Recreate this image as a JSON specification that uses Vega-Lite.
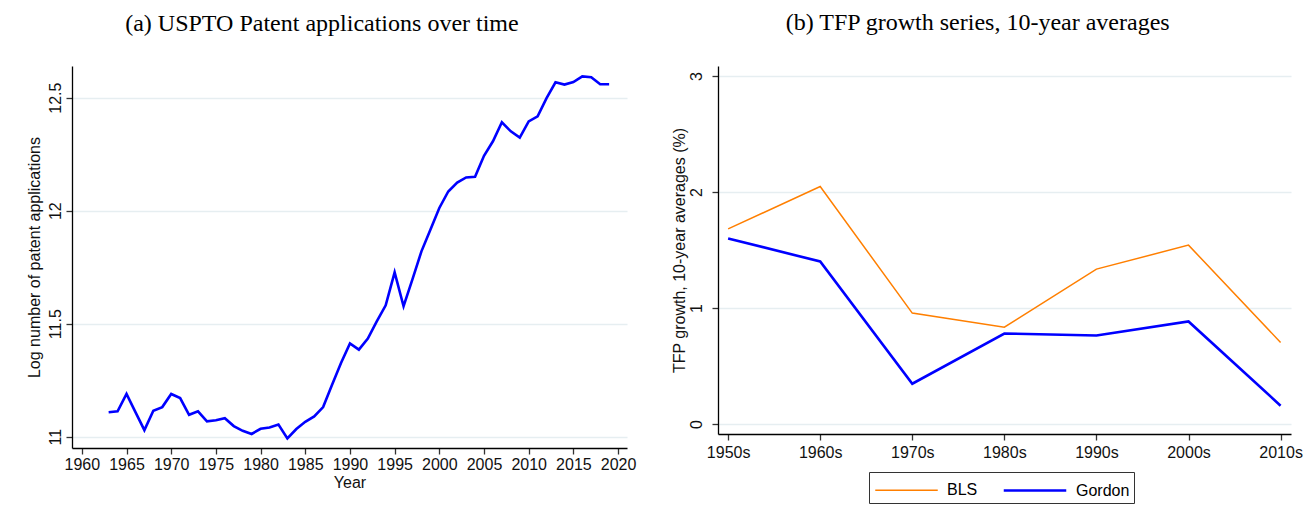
{
  "$schema": "https://vega.github.io/schema/vega-lite/v6.json",
  "background": "white",
  "padding": {"left": 26, "top": 11, "right": 0, "bottom": 0},
  "spacing": 35,
  "datasets": {
    "patents": [
      {"year": 1963, "log_apps": 11.108}, {"year": 1964, "log_apps": 11.112}, {"year": 1965, "log_apps": 11.189},
      {"year": 1966, "log_apps": 11.109}, {"year": 1967, "log_apps": 11.029}, {"year": 1968, "log_apps": 11.115},
      {"year": 1969, "log_apps": 11.131}, {"year": 1970, "log_apps": 11.189}, {"year": 1971, "log_apps": 11.171},
      {"year": 1972, "log_apps": 11.097}, {"year": 1973, "log_apps": 11.112}, {"year": 1974, "log_apps": 11.068},
      {"year": 1975, "log_apps": 11.073}, {"year": 1976, "log_apps": 11.082}, {"year": 1977, "log_apps": 11.047},
      {"year": 1978, "log_apps": 11.026}, {"year": 1979, "log_apps": 11.012}, {"year": 1980, "log_apps": 11.035},
      {"year": 1981, "log_apps": 11.041}, {"year": 1982, "log_apps": 11.054}, {"year": 1983, "log_apps": 10.992},
      {"year": 1984, "log_apps": 11.034}, {"year": 1985, "log_apps": 11.066}, {"year": 1986, "log_apps": 11.090},
      {"year": 1987, "log_apps": 11.131}, {"year": 1988, "log_apps": 11.230}, {"year": 1989, "log_apps": 11.326},
      {"year": 1990, "log_apps": 11.413}, {"year": 1991, "log_apps": 11.385}, {"year": 1992, "log_apps": 11.434},
      {"year": 1993, "log_apps": 11.510}, {"year": 1994, "log_apps": 11.581}, {"year": 1995, "log_apps": 11.727},
      {"year": 1996, "log_apps": 11.577}, {"year": 1997, "log_apps": 11.697}, {"year": 1998, "log_apps": 11.820},
      {"year": 1999, "log_apps": 11.916}, {"year": 2000, "log_apps": 12.012}, {"year": 2001, "log_apps": 12.085},
      {"year": 2002, "log_apps": 12.124}, {"year": 2003, "log_apps": 12.147}, {"year": 2004, "log_apps": 12.150},
      {"year": 2005, "log_apps": 12.243}, {"year": 2006, "log_apps": 12.307}, {"year": 2007, "log_apps": 12.391},
      {"year": 2008, "log_apps": 12.351}, {"year": 2009, "log_apps": 12.323}, {"year": 2010, "log_apps": 12.395},
      {"year": 2011, "log_apps": 12.417}, {"year": 2012, "log_apps": 12.498}, {"year": 2013, "log_apps": 12.568},
      {"year": 2014, "log_apps": 12.558}, {"year": 2015, "log_apps": 12.569}, {"year": 2016, "log_apps": 12.594},
      {"year": 2017, "log_apps": 12.590}, {"year": 2018, "log_apps": 12.559}, {"year": 2019, "log_apps": 12.559}
    ],
    "tfp": [
      {"decade": 1950, "series": "BLS", "tfp": 1.682}, {"decade": 1960, "series": "BLS", "tfp": 2.047},
      {"decade": 1970, "series": "BLS", "tfp": 0.956}, {"decade": 1980, "series": "BLS", "tfp": 0.835},
      {"decade": 1990, "series": "BLS", "tfp": 1.335}, {"decade": 2000, "series": "BLS", "tfp": 1.542},
      {"decade": 2010, "series": "BLS", "tfp": 0.703},
      {"decade": 1950, "series": "Gordon", "tfp": 1.599}, {"decade": 1960, "series": "Gordon", "tfp": 1.401},
      {"decade": 1970, "series": "Gordon", "tfp": 0.347}, {"decade": 1980, "series": "Gordon", "tfp": 0.780},
      {"decade": 1990, "series": "Gordon", "tfp": 0.763}, {"decade": 2000, "series": "Gordon", "tfp": 0.884},
      {"decade": 2010, "series": "Gordon", "tfp": 0.158}
    ]
  },
  "resolve": {
    "scale": {"color": "independent", "strokeWidth": "independent"},
    "legend": {"color": "independent", "strokeWidth": "independent"}
  },
  "hconcat": [
    {
      "width": 555,
      "height": 382,
      "title": {"text": "(a) USPTO Patent applications over time", "frame": "bounds", "anchor": "middle", "offset": 30, "dx": -9},
      "data": {"name": "patents"},
      "mark": {"type": "line", "color": "#0000ff", "strokeWidth": 2.6},
      "encoding": {
        "x": {
          "field": "year", "type": "quantitative",
          "scale": {"domain": [1958.9, 2021.0], "nice": false, "zero": false},
          "axis": {"values": [1960, 1965, 1970, 1975, 1980, 1985, 1990, 1995, 2000, 2005, 2010, 2015, 2020], "format": "d", "title": "Year", "labelPadding": 2, "titlePadding": 2}
        },
        "y": {
          "field": "log_apps", "type": "quantitative",
          "scale": {"domain": [10.95, 12.64], "nice": false, "zero": false},
          "axis": {"values": [11, 11.5, 12, 12.5], "format": "~g", "title": "Log number of patent applications", "labelAngle": -90, "labelAlign": "center", "labelBaseline": "bottom", "labelPadding": 3, "titlePadding": 5}
        }
      }
    },
    {
      "width": 573,
      "height": 368,
      "title": {"text": "(b) TFP growth series, 10-year averages", "frame": "bounds", "anchor": "middle", "offset": 31, "dx": -9},
      "data": {"name": "tfp"},
      "mark": {"type": "line"},
      "encoding": {
        "x": {
          "field": "decade", "type": "quantitative",
          "scale": {"domain": [1948.9, 2011.13], "nice": false, "zero": false},
          "axis": {"values": [1950, 1960, 1970, 1980, 1990, 2000, 2010], "labelExpr": "datum.value + 's'", "title": null, "labelPadding": 4}
        },
        "y": {
          "field": "tfp", "type": "quantitative",
          "scale": {"domain": [-0.086, 3.086], "nice": false, "zero": false},
          "axis": {"values": [0, 1, 2, 3], "format": "d", "title": "TFP growth, 10-year averages (%)", "labelAngle": -90, "labelAlign": "center", "labelBaseline": "bottom", "labelPadding": 8, "titlePadding": 1}
        },
        "color": {
          "field": "series", "type": "nominal",
          "scale": {"domain": ["BLS", "Gordon"], "range": ["#ff7f00", "#0000ff"]},
          "legend": {"title": null, "orient": "none", "legendX": 151, "legendY": 406, "direction": "horizontal", "symbolType": "M-2.5,0H2.5", "symbolSize": 625, "padding": 4.5, "symbolOffset": 19.5, "labelOffset": 27, "columnPadding": 21, "strokeColor": "#333"}
        },
        "strokeWidth": {
          "field": "series", "type": "ordinal",
          "scale": {"domain": ["BLS", "Gordon"], "range": [1.5, 2.6]},
          "legend": {"title": null, "orient": "none", "legendX": 151, "legendY": 406, "direction": "horizontal", "symbolType": "M-2.5,0H2.5", "symbolSize": 625, "padding": 4.5, "symbolOffset": 19.5, "labelOffset": 27, "columnPadding": 21, "strokeColor": "#333"}
        }
      }
    }
  ],
  "config": {
    "view": {"stroke": null},
    "axis": {
      "labelFont": "Liberation Sans", "labelFontSize": 16, "labelColor": "#111",
      "titleFont": "Liberation Sans", "titleFontSize": 16, "titleFontWeight": "normal", "titleColor": "#111",
      "domainColor": "#000", "domainWidth": 1.3, "tickColor": "#333", "tickSize": 6, "tickWidth": 1.3,
      "gridColor": "#e6eef1", "gridWidth": 1.5, "labelFlush": false
    },
    "axisX": {"grid": false},
    "title": {"font": "Liberation Serif", "fontSize": 24, "fontWeight": "normal", "color": "#000"},
    "legend": {"labelFont": "Liberation Sans", "labelFontSize": 16, "labelColor": "#000"}
  }
}
